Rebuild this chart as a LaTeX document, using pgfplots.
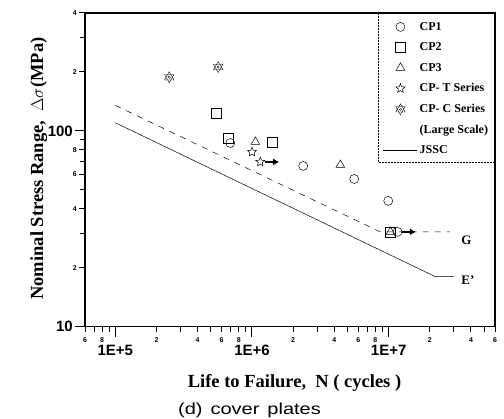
\documentclass[border=0pt]{standalone}
\usepackage{fontspec}
\setmainfont{Liberation Serif}
\setsansfont{Liberation Sans}
\newfontfamily\capfont[FakeStretch=1.25]{Liberation Sans}
\usepackage{pgfplots}
\pgfplotsset{compat=1.18}
\usetikzlibrary{arrows.meta}

\pgfdeclareplotmark{hexagram}{%
  \pgfpathmoveto{\pgfqpointpolar{90}{\pgfplotmarksize}}%
  \pgfpathlineto{\pgfqpointpolar{210}{\pgfplotmarksize}}%
  \pgfpathlineto{\pgfqpointpolar{330}{\pgfplotmarksize}}%
  \pgfpathclose
  \pgfpathmoveto{\pgfqpointpolar{270}{\pgfplotmarksize}}%
  \pgfpathlineto{\pgfqpointpolar{30}{\pgfplotmarksize}}%
  \pgfpathlineto{\pgfqpointpolar{150}{\pgfplotmarksize}}%
  \pgfpathclose
  \pgfpathcircle{\pgfpointorigin}{0.22\pgfplotmarksize}%
  \pgfusepathqstroke}

\pgfdeclareplotmark{ostar}{%
  \pgfpathmoveto{\pgfqpointpolar{90}{\pgfplotmarksize}}%
  \pgfpathlineto{\pgfqpointpolar{126}{0.45\pgfplotmarksize}}%
  \pgfpathlineto{\pgfqpointpolar{162}{\pgfplotmarksize}}%
  \pgfpathlineto{\pgfqpointpolar{198}{0.45\pgfplotmarksize}}%
  \pgfpathlineto{\pgfqpointpolar{234}{\pgfplotmarksize}}%
  \pgfpathlineto{\pgfqpointpolar{270}{0.45\pgfplotmarksize}}%
  \pgfpathlineto{\pgfqpointpolar{306}{\pgfplotmarksize}}%
  \pgfpathlineto{\pgfqpointpolar{342}{0.45\pgfplotmarksize}}%
  \pgfpathlineto{\pgfqpointpolar{18}{\pgfplotmarksize}}%
  \pgfpathlineto{\pgfqpointpolar{54}{0.45\pgfplotmarksize}}%
  \pgfpathclose
  \pgfusepathqstroke}

\begin{document}
\begin{tikzpicture}
\path[use as bounding box] (-85pt,-92.3pt) rectangle (419pt,326.7pt);
\begin{axis}[
  at={(0pt,0pt)}, anchor=south west,
  scale only axis, width=410pt, height=313.7pt,
  xmode=log, ymode=log,
  xmin=6e4, xmax=6e7, ymin=10, ymax=400,
  axis line style={line width=1.2pt},
  every tick/.style={black, line width=1pt},
  tick align=outside, xtick pos=bottom, ytick pos=left,
  major tick length=10pt, minor tick length=5pt,
  xtick={1e5,1e6,1e7}, xticklabels={1E+5,1E+6,1E+7},
  ytick={10,100}, yticklabels={10,100},
  minor xtick={7e4,9e4,3e5,5e5,7e5,9e5,3e6,5e6,7e6,9e6,3e7,5e7},
  minor ytick={30,50,70,90,300},
  extra x ticks={6e4,8e4,2e5,4e5,6e5,8e5,2e6,4e6,6e6,8e6,2e7,4e7,6e7},
  extra x tick labels={6,8,2,4,6,8,2,4,6,8,2,4,6},
  extra y ticks={20,40,60,80,200,400},
  extra y tick labels={2,4,6,8,2,4},
  extra x tick style={major tick length=5pt,
     xticklabel style={font=\sffamily\bfseries\fontsize{7}{7}\selectfont, inner sep=1pt, yshift=2pt}},
  extra y tick style={major tick length=6pt,
     yticklabel style={font=\sffamily\bfseries\fontsize{7}{7}\selectfont, inner sep=1pt}},
  tick label style={font=\sffamily\bfseries\fontsize{15}{15}\selectfont},
  xticklabel style={inner sep=1pt, yshift=-7pt},
  yticklabel style={inner sep=1pt, xshift=-1pt},
  xlabel={Life to Failure,\ \ N ( cycles )},
  ylabel={Nominal Stress Range,\ \ $\Delta\sigma$(MPa)},
  xlabel style={at={(axis description cs:0.511,-0.1954)}, anchor=base,
     font=\bfseries\fontsize{18.5}{18.5}\selectfont},
  ylabel style={at={(axis description cs:-0.1024,0.504)}, anchor=base,
     font=\bfseries\fontsize{18.5}{18.5}\selectfont},
  legend image code/.code={\draw[mark repeat=2,mark phase=2,#1]
     plot coordinates {(0pt,0pt) (17pt,0pt) (34pt,0pt)};},
  legend style={at={(axis description cs:0.7146,1)}, anchor=north west,
     draw=none, fill=none, inner xsep=5pt, inner ysep=7pt, row sep=7pt,
     font=\bfseries\fontsize{12}{12}\selectfont,
     /tikz/every even column/.style={column sep=7pt}},
  legend cell align=left,
]
\addplot[only marks, mark=o, mark size=4.5pt, black, line width=0.5pt]
  coordinates {(6.94e5,86.7) (2.37e6,66.2) (5.6e6,56.8) (9.93e6,43.9) (1.16e7,30.5)};
\addlegendentry{CP1}
\addplot[only marks, mark=square, mark size=5pt, black, line width=0.5pt]
  coordinates {(5.48e5,123) (6.71e5,92) (1.41e6,87.8) (1.03e7,30.5)};
\addlegendentry{CP2}
\addplot[only marks, mark=triangle, mark size=5pt, black, line width=0.5pt]
  coordinates {(1.06e6,87.8) (4.43e6,67) (1.03e7,30.5)};
\addlegendentry{CP3}
\addplot[only marks, mark=ostar, mark size=4.8pt, black, line width=0.5pt]
  coordinates {(1.0e6,78) (1.15e6,69.4)};
\addlegendentry{CP- T Series}
\addplot[only marks, mark=hexagram, mark size=5.5pt, black, line width=0.35pt]
  coordinates {(2.48e5,188) (5.66e5,212)};
\addlegendentry{CP- C Series}
\addlegendimage{empty legend}
\addlegendentry{(Large Scale)}
\addplot[black, line width=0.5pt, mark=none]
  coordinates {(1e5,110) (2.2e7,18) (3e7,18)};
\addlegendentry{JSSC}
\addplot[black, line width=0.5pt, mark=none, dash pattern=on 6pt off 6pt, forget plot]
  coordinates {(1e5,135) (8.67e6,30.5) (2.8e7,30.5)};
\addplot[black, line width=1.8pt, mark=none, -{Latex[length=6pt,width=7pt]}, forget plot]
  coordinates {(1.25e6,69.4) (1.58e6,69.4)};
\addplot[black, line width=1.8pt, mark=none, -{Latex[length=6pt,width=7pt]}, forget plot]
  coordinates {(1.26e7,30.5) (1.58e7,30.5)};
\draw[densely dotted, line width=0.5pt] (axis description cs:0.7146,1) rectangle (axis description cs:1,0.525);
\node[font=\bfseries\fontsize{13}{13}\selectfont] at (axis cs:3.7e7,27.7) {G};
\node[font=\bfseries\fontsize{13}{13}\selectfont] at (axis cs:3.8e7,17.3) {E'};
\end{axis}
\node[font=\capfont\fontsize{16}{16}\selectfont] at (164.5pt,-83.3pt) {(d)\hspace{8pt}cover\hspace{8pt}plates};
\end{tikzpicture}
\end{document}
